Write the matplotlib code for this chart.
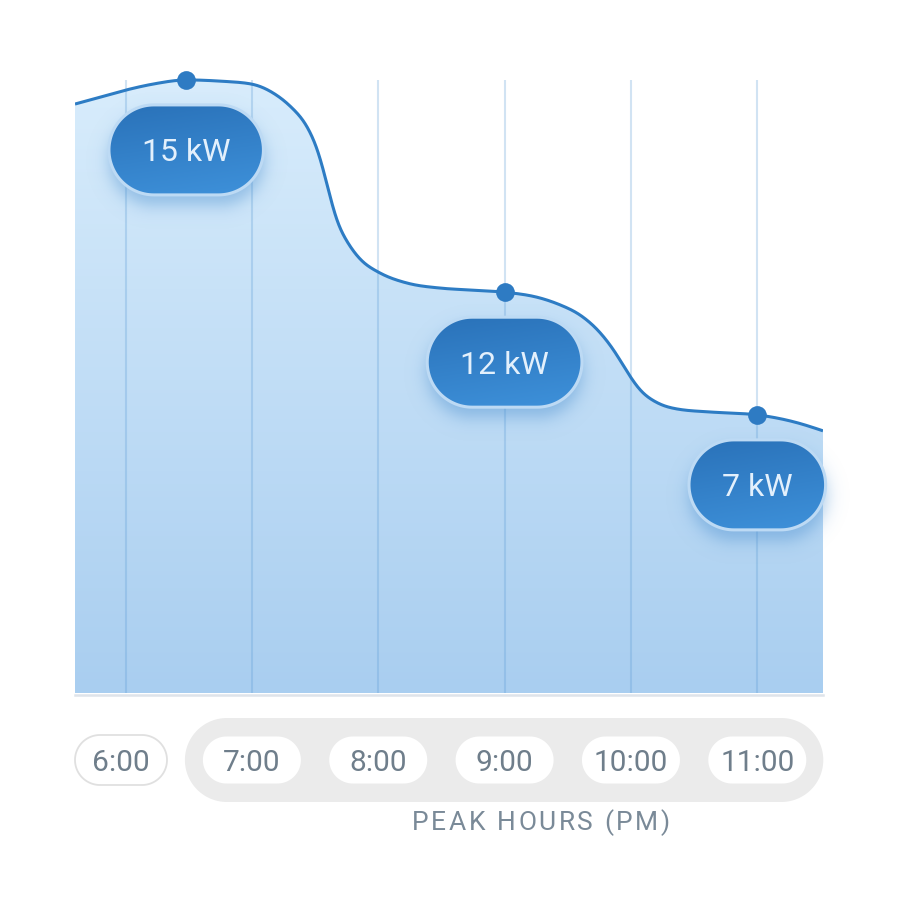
import numpy as np
import matplotlib
matplotlib.use('Agg')
import matplotlib.pyplot as plt
from matplotlib.patches import Polygon
from matplotlib.colors import LinearSegmentedColormap

# ---------------- data ----------------
curve_hours = [5.60, 5.80, 6.00, 6.22, 6.48, 6.75, 7.00, 7.17, 7.31, 7.44, 7.53, 7.60,
               7.66, 7.76, 7.86, 8.00, 8.23, 8.49, 8.75, 9.00, 9.28, 9.44, 9.60, 9.76,
               9.88, 9.97, 10.07, 10.21, 10.37, 10.63, 11.00, 11.29, 11.52]
curve_load = [14.40, 14.57, 14.74, 14.89, 14.99, 14.96, 14.89, 14.67, 14.33, 13.84, 13.20, 12.37,
              11.64, 11.00, 10.59, 10.29, 10.02, 9.90, 9.85, 9.80, 9.66, 9.49, 9.24, 8.80,
              8.31, 7.85, 7.41, 7.09, 6.94, 6.87, 6.80, 6.63, 6.41]
marker_hours = [6.48, 9.00, 11.00]
marker_load = [14.99, 9.80, 6.80]
marker_labels = ['15 kW', '12 kW', '7 kW']
tick_hours = [6, 7, 8, 9, 10, 11]
tick_labels = ['6:00', '7:00', '8:00', '9:00', '10:00', '11:00']
peak_start_hour = 7
axis_title = 'PEAK HOURS (PM)'

FONT = ['Roboto', 'DejaVu Sans']
plt.rcParams['font.family'] = FONT


def monotone(x, y, n=60):
    x = np.asarray(x, float); y = np.asarray(y, float)
    h = np.diff(x); s = np.diff(y) / h
    m = np.zeros_like(y)
    for i in range(1, len(x) - 1):
        p = (s[i - 1] * h[i] + s[i] * h[i - 1]) / (h[i - 1] + h[i])
        m[i] = (np.sign(s[i - 1]) + np.sign(s[i])) * min(abs(s[i - 1]), abs(s[i]), 0.5 * abs(p))
    m[0] = (3 * s[0] - m[1]) / 2
    m[-1] = (3 * s[-1] - m[-2]) / 2
    xs, ys = [], []
    for i in range(len(h)):
        t = np.linspace(0, 1, n, endpoint=(i == len(h) - 1))
        h00 = 2 * t**3 - 3 * t**2 + 1
        h10 = t**3 - 2 * t**2 + t
        h01 = -2 * t**3 + 3 * t**2
        h11 = t**3 - t**2
        xs.append(x[i] + t * h[i])
        ys.append(h00 * y[i] + h10 * h[i] * m[i] + h01 * y[i + 1] + h11 * h[i] * m[i + 1])
    return np.concatenate(xs), np.concatenate(ys)


def smooth_curve(x, y, sigma):
    # resample the interpolated path on a uniform grid and soften the joints
    xu = np.linspace(x[0], x[-1], 3000)
    yu = np.interp(xu, x, y)
    dx = xu[1] - xu[0]
    k = int(4 * sigma / dx)
    kern = np.exp(-0.5 * (np.arange(-k, k + 1) * dx / sigma) ** 2)
    kern /= kern.sum()
    ypad = np.r_[2 * yu[0] - yu[k:0:-1], yu, 2 * yu[-1] - yu[-2:-k - 2:-1]]
    ys = np.convolve(ypad, kern, mode='valid')
    return xu, ys


fig = plt.figure(figsize=(9, 9), dpi=100)
fig.patch.set_facecolor('white')

ax = fig.add_axes([75 / 900, 207 / 900, 748 / 900, 633 / 900])
top_val = 633 / 40.9
ax.axis('off')

mx, my = monotone(curve_hours, curve_load)
cx, cy = smooth_curve(mx, my, 0.035)
poly = Polygon(np.column_stack([np.r_[cx[0], cx, cx[-1]], np.r_[0, cy, 0]]),
               closed=True, facecolor='none', edgecolor='none')
ax.add_patch(poly)
area_cmap = LinearSegmentedColormap.from_list('area', ['#a9cef0', '#d9edfc'])
grad = np.linspace(0, 1, 256).reshape(-1, 1)
im = ax.imshow(grad, cmap=area_cmap, aspect='auto', origin='lower',
               extent=[curve_hours[0], curve_hours[-1], 0, 613 / 40.9 + 0.3],
               zorder=1, interpolation='bicubic')
im.set_clip_path(poly)
ax.set_xlim(curve_hours[0], curve_hours[-1])
ax.set_ylim(0, top_val)

ax.vlines(tick_hours, 0, 613 / 40.9, colors='#5b9bd5', alpha=0.28, lw=1.5, zorder=2)
ax.plot(cx, cy, color='#2d7cc4', lw=2.2, zorder=3, solid_capstyle='butt')
ax.plot(marker_hours, marker_load, 'o', ms=13.5, color='#2e7bc3', zorder=4,
        markeredgewidth=0)

# overlay axes in pixel coordinates (origin bottom-left)
ov = fig.add_axes([0, 0, 1, 1])
ov.set_zorder(2)
ov.axis('off')
ov.set_xlim(0, 900); ov.set_ylim(0, 900)
ov.set_autoscale_on(False)

renderer = fig.canvas.get_renderer()


def text_width(s, **kw):
    t = ov.text(0, 0, s, **kw)
    w = t.get_window_extent(renderer=renderer).width
    t.remove()
    return w


def capsule(cxp, cyp, w, h, **kw):
    r = h / 2
    a1 = np.linspace(-np.pi / 2, np.pi / 2, 60)
    a2 = np.linspace(np.pi / 2, 3 * np.pi / 2, 60)
    xr = cxp + w / 2 - r + r * np.cos(a1); yr = cyp + r * np.sin(a1)
    xl = cxp - w / 2 + r + r * np.cos(a2); yl = cyp + r * np.sin(a2)
    pts = np.column_stack([np.r_[xr, xl], np.r_[yr, yl]])
    p = Polygon(pts, closed=True, **kw)
    ov.add_patch(p)
    return p


def capsule_shadow(cxp, cyp, w, h, off=11, sigma=10.0, amax=0.45, color=(70, 140, 205)):
    r = h / 2
    pad = 50
    x0, x1 = cxp - w / 2 - pad, cxp + w / 2 + pad
    y0, y1 = cyp - h / 2 - pad - off, cyp + h / 2 + pad - off
    X, Y = np.meshgrid(np.arange(x0, x1, 1.0), np.arange(y0, y1, 1.0))
    dx = np.maximum(np.abs(X - cxp) - (w / 2 - r), 0)
    d = np.sqrt(dx**2 + (Y - (cyp - off))**2) - r
    a = amax * 0.5 * (1 - np.tanh(d / sigma))
    img = np.zeros(X.shape + (4,))
    img[..., 0] = color[0] / 255; img[..., 1] = color[1] / 255; img[..., 2] = color[2] / 255
    img[..., 3] = a
    ov.imshow(img, extent=[x0, x1, y0, y1], origin='lower', aspect='auto', zorder=5,
              interpolation='bilinear')


pill_cmap = LinearSegmentedColormap.from_list('pill', ['#2a72b9', '#3e91da'])
label_fs = 23
for hx, hv, lab in zip(marker_hours, marker_load, marker_labels):
    px, py = ax.transData.transform((hx, hv))
    pcx, pcy = px, py - 70
    tw = text_width(lab, fontsize=label_fs)
    w, h = tw + 66, 90
    capsule_shadow(pcx, pcy, w, h)
    patch = capsule(pcx, pcy, w, h, facecolor='none', edgecolor='#bddaf4', lw=2.2, zorder=7)
    u, v = np.meshgrid(np.linspace(0, 1, 64), np.linspace(0, 1, 64))
    g = 0.8 * v + 0.2 * u
    gi = ov.imshow(g, cmap=pill_cmap, origin='upper', aspect='auto',
                   extent=[pcx - w / 2, pcx + w / 2, pcy - h / 2, pcy + h / 2],
                   zorder=6, interpolation='bilinear')
    gi.set_clip_path(patch)
    ov.text(pcx, pcy - 0.355 * label_fs * 100 / 72, lab, fontsize=label_fs,
            color='#e3f0fc', ha='center', va='baseline', zorder=8)

# baseline strip
ov.plot([75, 823], [205.5, 205.5], color='#dfe4ea', lw=1.8, zorder=1)

# tick pills
tick_fs = 21.5
tick_y = 140
peak_px = [ax.transData.transform((t, 0))[0] for t in tick_hours if t >= peak_start_hour]
pw, ph = 98, 47
cont_x0 = min(peak_px) - pw / 2 - 18
cont_x1 = max(peak_px) + pw / 2 + 17
capsule((cont_x0 + cont_x1) / 2, 140, cont_x1 - cont_x0, 84,
        facecolor='#ebebeb', edgecolor='none', zorder=3)
left_edge = ax.transData.transform((curve_hours[0], 0))[0]
for t, lab in zip(tick_hours, tick_labels):
    tx = ax.transData.transform((t, 0))[0]
    if t >= peak_start_hour:
        capsule(tx, tick_y, pw, ph, facecolor='white', edgecolor='none', zorder=4)
    else:
        w, h = 92, 50
        tx = left_edge + w / 2
        capsule(tx, tick_y, w, h, facecolor='white', edgecolor='#e0e0e0', lw=1.3, zorder=4)
    ov.text(tx, tick_y - 0.355 * tick_fs * 100 / 72, lab, fontsize=tick_fs,
            color='#6f7e8b', ha='center', va='baseline', zorder=5)

# letter-spaced axis title
title_fs = 19
kw = dict(fontsize=title_fs, color='#7a8a98')
bar_w = text_width('||', **kw)
adv = [text_width('|' + ch + '|', **kw) - bar_w for ch in axis_title]
target_w = 258
tracking = (target_w - sum(adv)) / (len(axis_title) - 1)
x = 541 - target_w / 2
for ch, a in zip(axis_title, adv):
    ov.text(x, 70, ch, ha='left', va='baseline', zorder=5, **kw)
    x += a + tracking

ov.set_xlim(0, 900); ov.set_ylim(0, 900)
fig.savefig('out.png', dpi=100, facecolor='white')
